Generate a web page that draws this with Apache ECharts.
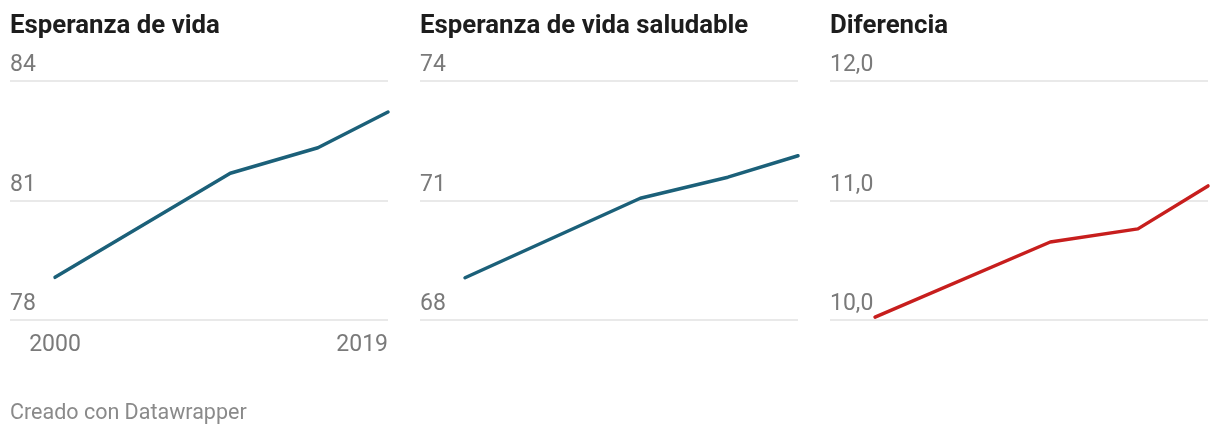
<!DOCTYPE html>
<html><head><meta charset="utf-8">
<script src="https://cdn.jsdelivr.net/npm/echarts@6/dist/echarts.min.js"></script>
<style>html,body{margin:0;padding:0;background:#fff}#c{width:1220px;height:436px}</style>
</head><body><div id="c"></div>
<script>
const years = [2000, 2010, 2015, 2019];
const lifeExp = [79.06, 81.68, 82.32, 83.22];
const healthyExp = [69.05, 71.05, 71.58, 72.12];
const gap = [10.02, 10.65, 10.76, 11.12];
const titles = ['Esperanza de vida', 'Esperanza de vida saludable', 'Diferencia'];
const yRanges = [[78, 84, 3], [68, 74, 3], [10, 12, 1]];
const xTickLabels = [2000, 2019];
const footer = 'Creado con Datawrapper';

const FONT = 'Roboto';
const lefts = [10, 420, 830];
const W = 378;
const seriesData = [lifeExp, healthyExp, gap];
const colors = ['#1b6079', '#1b6079', '#c71e1d'];

const chart = echarts.init(document.getElementById('c'), null, {renderer: 'canvas'});
const opt = {
  animation: false,
  backgroundColor: '#fff',
  title: titles.map((t, i) => ({
    text: t, left: lefts[i], top: 14, padding: 0,
    textStyle: {fontFamily: FONT, fontSize: 25.8, fontWeight: 'bold', color: '#1d1d1d'}
  })).concat([{
    text: footer, left: 10, top: 403, padding: 0,
    textStyle: {fontFamily: FONT, fontSize: 21.5, fontWeight: 'normal', color: '#8a8a8a'}
  }]),
  grid: lefts.map(l => ({left: l, width: W, top: 81, height: 238.5, containLabel: false})),
  xAxis: lefts.map((l, i) => ({
    gridIndex: i, type: 'value', min: 1997.43, max: 2019,
    axisLine: {show: false}, axisTick: {show: false}, splitLine: {show: false},
    axisLabel: {
      show: i === 0, customValues: xTickLabels, margin: 14,
      fontFamily: FONT, fontSize: 23, color: '#7a7a7a',
      alignMaxLabel: 'right', formatter: v => String(v)
    }
  })),
  yAxis: yRanges.map((r, i) => ({
    gridIndex: i, type: 'value', min: r[0], max: r[1], interval: r[2],
    axisLine: {show: false}, axisTick: {show: false},
    splitLine: {lineStyle: {color: '#e2e2e2', width: 1.5}},
    axisLabel: {
      inside: true, margin: 0, verticalAlign: 'bottom', padding: [0, 0, 4, 0],
      fontFamily: FONT, fontSize: 23, color: '#7a7a7a',
      formatter: v => i === 2 ? v.toFixed(1).replace('.', ',') : String(v)
    }
  })),
  series: seriesData.map((d, i) => ({
    type: 'line', xAxisIndex: i, yAxisIndex: i,
    data: years.map((y, k) => [y, d[k]]),
    showSymbol: false, symbol: 'none',
    lineStyle: {color: colors[i], width: 3.5, cap: 'round', join: 'round'},
    clip: false
  }))
};
chart.setOption(opt);
</script></body></html>
